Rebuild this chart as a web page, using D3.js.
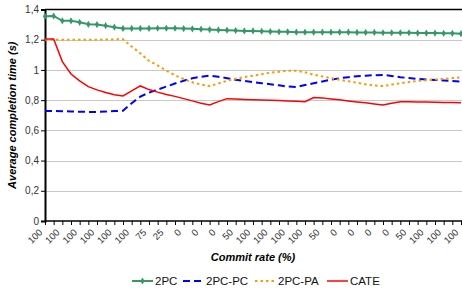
<!DOCTYPE html>
<html>
<head>
<meta charset="utf-8">
<script src="https://cdn.jsdelivr.net/npm/d3@7"></script>
<style>
  body { margin: 0; background: #fff; }
  svg { display: block; font-family: "Liberation Sans", Arial, sans-serif; }
  .axis-title { font-weight: bold; font-style: italic; font-size: 11px; fill: #000; }
  .tick-label { font-size: 9.5px; fill: #333; }
  .legend-label { font-size: 11.5px; fill: #111; }
</style>
</head>
<body>
<svg id="chart" width="462" height="291"></svg>
<script>
// x-axis labels (only every second category is labelled)
var tickLabels = ["100", "100", "100", "100", "100", "100", "75", "25", "0", "0", "0", "50",
  "100", "100", "100", "100", "50", "0", "0", "0", "0", "50", "100", "100", "100"];
var yTicks = [0, 0.2, 0.4, 0.6, 0.8, 1, 1.2, 1.4];

var series2PC = [1.355, 1.357, 1.325, 1.325, 1.315, 1.302, 1.300, 1.293, 1.283, 1.275,
  1.275, 1.275, 1.275, 1.276, 1.276, 1.276, 1.274, 1.272, 1.270, 1.267,
  1.265, 1.263, 1.261, 1.258, 1.258, 1.256, 1.254, 1.252, 1.252, 1.250,
  1.250, 1.250, 1.250, 1.250, 1.250, 1.250, 1.248, 1.248, 1.248, 1.246,
  1.246, 1.246, 1.246, 1.244, 1.244, 1.244, 1.242, 1.242, 1.240];

var series2PCPC = [0.728, 0.728, 0.727, 0.725, 0.723, 0.722, 0.722, 0.724, 0.728, 0.730,
  0.780, 0.823, 0.850, 0.870, 0.890, 0.910, 0.928, 0.945, 0.955, 0.962,
  0.955, 0.945, 0.935, 0.927, 0.920, 0.912, 0.905, 0.898, 0.890, 0.887,
  0.900, 0.912, 0.924, 0.935, 0.945, 0.952, 0.958, 0.962, 0.965, 0.967,
  0.960, 0.952, 0.946, 0.940, 0.937, 0.934, 0.930, 0.926, 0.922];

var series2PCPA = [1.200, 1.200, 1.200, 1.200, 1.200, 1.200, 1.200, 1.201, 1.202, 1.203,
  1.155, 1.110, 1.060, 1.030, 0.995, 0.965, 0.940, 0.918, 0.903, 0.893,
  0.910, 0.928, 0.942, 0.953, 0.962, 0.972, 0.982, 0.988, 0.994, 0.995,
  0.985, 0.968, 0.957, 0.946, 0.935, 0.925, 0.915, 0.905, 0.897, 0.893,
  0.903, 0.912, 0.920, 0.927, 0.932, 0.937, 0.941, 0.946, 0.951];

var seriesCATE = [1.205, 1.205, 1.055, 0.973, 0.927, 0.889, 0.868, 0.850, 0.836, 0.828,
  0.861, 0.894, 0.870, 0.853, 0.838, 0.825, 0.810, 0.795, 0.780, 0.768,
  0.790, 0.810, 0.808, 0.805, 0.803, 0.801, 0.799, 0.797, 0.795, 0.793,
  0.790, 0.817, 0.815, 0.808, 0.802, 0.795, 0.788, 0.782, 0.775, 0.768,
  0.780, 0.790, 0.789, 0.788, 0.787, 0.786, 0.785, 0.784, 0.783];

var seriesNames = ["2PC", "2PC-PC", "2PC-PA", "CATE"];
var seriesColors = ["#339966", "#0000ff", "#ff9900", "#ff0000"];

var svg = d3.select("#chart");
var plotLeft = 45, plotRight = 461, plotTop = 9.5, plotBottom = 221;

var idx = d3.range(series2PC.length);
var x = d3.scalePoint().domain(idx).range([plotLeft, plotRight]);
var y = d3.scaleLinear().domain([0, 1.4]).range([plotBottom, plotTop]);

// gridlines
svg.append("g")
  .selectAll("line")
  .data(yTicks.slice(1, -1))
  .enter()
  .append("line")
  .attr("x1", plotLeft).attr("x2", 462)
  .attr("y1", function(d) { return Math.round(y(d)) + 0.5; })
  .attr("y2", function(d) { return Math.round(y(d)) + 0.5; })
  .attr("stroke", "#c8c8c8")
  .attr("stroke-width", 1);

// top border
svg.append("line")
  .attr("x1", plotLeft).attr("x2", 462)
  .attr("y1", plotTop).attr("y2", plotTop)
  .attr("stroke", "#000").attr("stroke-width", 1.5);

// y axis
var yAxis = d3.axisLeft(y)
  .tickValues(yTicks)
  .tickSize(4)
  .tickFormat(function(d) { return d3.format("~g")(d).replace(".", ","); });

var gy = svg.append("g")
  .attr("transform", "translate(" + plotLeft + ",0)")
  .call(yAxis);
gy.select(".domain").attr("stroke", "#000").attr("stroke-width", 2);
gy.selectAll(".tick line").attr("stroke", "#000");
gy.selectAll(".tick text")
  .attr("class", "tick-label")
  .attr("x", -6)
  .style("font-size", "10px")
  .style("font-family", "Liberation Sans, Arial, sans-serif");

// x axis with a tick at every category
var xAxis = d3.axisBottom(x).tickSize(4).tickFormat("");
var gx = svg.append("g")
  .attr("transform", "translate(0," + plotBottom + ")")
  .call(xAxis);
gx.select(".domain").attr("stroke", "#000").attr("stroke-width", 1.5)
  .attr("d", "M" + plotLeft + ",0H462");
gx.selectAll(".tick line").attr("stroke", "#000");

// rotated category labels
svg.append("g")
  .selectAll("text")
  .data(tickLabels)
  .enter()
  .append("text")
  .attr("class", "tick-label")
  .attr("text-anchor", "end")
  .attr("transform", function(d, i) {
    return "translate(" + (x(i * 2) - 2) + "," + (plotBottom + 12) + ") rotate(-45)";
  })
  .text(function(d) { return d; });

// axis titles
svg.append("text")
  .attr("class", "axis-title")
  .attr("text-anchor", "middle")
  .attr("transform", "translate(16," + ((plotTop + plotBottom) / 2) + ") rotate(-90)")
  .text("Average completion time (s)");

svg.append("text")
  .attr("class", "axis-title")
  .attr("text-anchor", "middle")
  .attr("x", (plotLeft + plotRight) / 2)
  .attr("y", 261)
  .text("Commit rate (%)");

// lines
var line = d3.line()
  .x(function(d, i) { return x(i); })
  .y(function(d) { return y(d); });

var allSeries = [series2PC, series2PCPC, series2PCPA, seriesCATE];
var dashes = [null, "7,4", "2.5,3", null];
var widths = [2, 2, 2, 1.5];

allSeries.forEach(function(s, k) {
  svg.append("path")
    .datum(s)
    .attr("d", line)
    .attr("fill", "none")
    .attr("stroke", seriesColors[k])
    .attr("stroke-width", widths[k])
    .attr("stroke-dasharray", dashes[k]);
});

// markers on 2PC
var diamond = d3.symbol().type(d3.symbolDiamond).size(15);
svg.append("g")
  .selectAll("path")
  .data(series2PC)
  .enter()
  .append("path")
  .attr("d", diamond)
  .attr("transform", function(d, i) { return "translate(" + x(i) + "," + y(d) + ")"; })
  .attr("fill", seriesColors[0]);

// legend
var legendX = [132, 183, 255, 327];
var legendY = 281;
var legend = svg.append("g");
seriesNames.forEach(function(name, k) {
  legend.append("line")
    .attr("x1", legendX[k]).attr("x2", legendX[k] + 21)
    .attr("y1", legendY).attr("y2", legendY)
    .attr("stroke", seriesColors[k])
    .attr("stroke-width", widths[k])
    .attr("stroke-dasharray", dashes[k]);
  if (k === 0) {
    legend.append("path")
      .attr("d", diamond)
      .attr("transform", "translate(" + (legendX[k] + 10.5) + "," + legendY + ")")
      .attr("fill", seriesColors[k]);
  }
  legend.append("text")
    .attr("class", "legend-label")
    .attr("x", legendX[k] + 23)
    .attr("y", legendY + 4)
    .text(name);
});
</script>
</body>
</html>
